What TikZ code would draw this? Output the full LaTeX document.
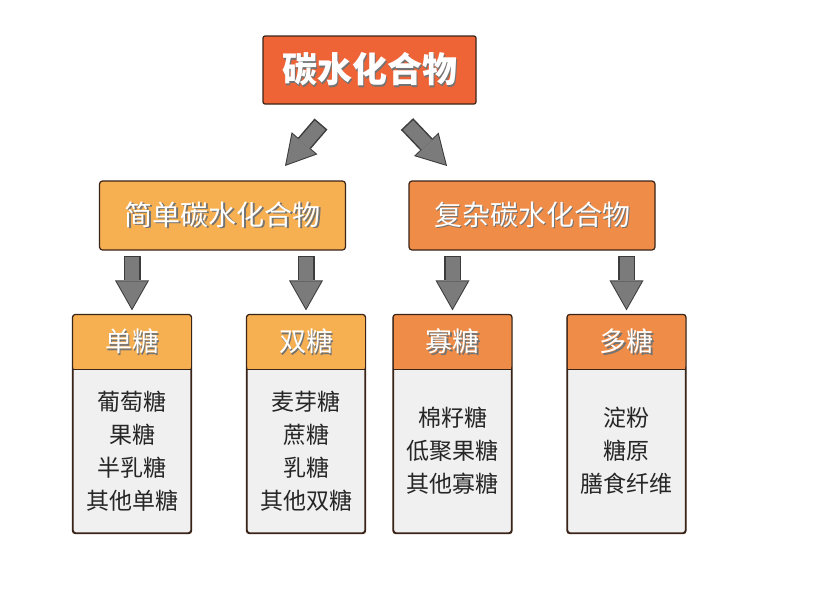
\documentclass[tikz,border=0pt]{standalone}
\usepackage{fontspec}
\setmainfont{Noto Sans CJK SC}
\usetikzlibrary{arrows.meta,positioning}
\definecolor{titlered}{HTML}{EF6437}
\definecolor{lightorange}{HTML}{F6B052}
\definecolor{darkorange}{HTML}{EF8D48}
\definecolor{bodygrey}{HTML}{F0F0F0}
\definecolor{framebrown}{HTML}{3A2418}
\definecolor{arrowgrey}{HTML}{7B7B7B}
\definecolor{arrowedge}{HTML}{3C3C3C}
\newcommand\shadowed[1]{\rlap{\kern1.5pt\raisebox{-1.5pt}{\textcolor{black!55}{#1}}}\textcolor{white}{#1}}
\tikzset{
	frame/.style={draw=framebrown, line width=1.2pt},
	topbox/.style={frame, fill=titlered, rounded corners=2pt, minimum width=213pt, minimum height=68pt, font=\fontsize{35}{40}\selectfont\bfseries},
	groupbox/.style={frame, rounded corners=3pt, minimum width=246pt, minimum height=69pt, font=\fontsize{28}{32}\selectfont},
	colbox/.style={frame, fill=bodygrey, rounded corners=3pt, minimum width=118pt, minimum height=218pt},
	headbox/.style={rounded corners=3pt, minimum width=118pt, minimum height=55pt, inner sep=0pt, font=\fontsize{27}{30}\selectfont},
	listtext/.style={align=center, font=\fontsize{23}{33}\selectfont, text=black!85},
	arrowout/.style={line width=17pt, draw=arrowedge, -{Triangle[length=30pt,width=34pt,line width=0pt]}},
	arrowin/.style={line width=14pt, draw=arrowgrey, -{Triangle[length=27pt,width=30.5pt,line width=0pt]}}
}
\begin{document}
\begin{tikzpicture}[x=1pt, y=-1pt]
	\useasboundingbox (0,0) rectangle (819,595);
	% Title and the two groups
	\node[topbox] (carb) at (369.5,70) {\shadowed{碳水化合物}};
	\node[groupbox, fill=lightorange] (simple) at (222.5,215.5) {\shadowed{简单碳水化合物}};
	\node[groupbox, fill=darkorange] (complex) at (532,215.5) {\shadowed{复杂碳水化合物}};
	% Diagonal arrows
	\coordinate (ltail) at (321,124);
	\coordinate (ltip) at (285,166);
	\coordinate (rtail) at (407,124);
	\coordinate (rtip) at (447,166);
	\foreach \from/\to in {ltail/ltip, rtail/rtip} {
			\draw[arrowout] (\from) -- (\to);
			\draw[arrowin, shorten <=1.5pt, shorten >=2pt] (\from) -- (\to);
		}
	% Sugar columns
	\foreach \name/\x/\col/\head/\items in {
			mono/132/lightorange/单糖/{葡萄糖\\果糖\\半乳糖\\其他单糖},
			di/306/lightorange/双糖/{麦芽糖\\蔗糖\\乳糖\\其他双糖},
			oligo/452.5/darkorange/寡糖/{棉籽糖\\低聚果糖\\其他寡糖},
			poly/626.5/darkorange/多糖/{淀粉\\糖原\\膳食纤维}} {
			\node[colbox] (\name) at (\x,424) {};
			\node[headbox, fill=\col, anchor=north] (\name head) at (\name.north) {\shadowed{\head}};
			\draw[frame] (\name head.south west) -- (\name head.south east);
			\draw[frame, rounded corners=3pt] (\name.north west) rectangle (\name.south east);
			\node[listtext] (\name list) at (\x,451) {\items};
		}
	% Down arrows
	\foreach \name/\group in {mono/simple, di/simple, oligo/complex, poly/complex} {
			\draw[arrowout, shorten <=5pt, shorten >=4pt] (\group.south -| \name.north) -- (\name head.north);
			\draw[arrowin, shorten <=6.5pt, shorten >=6pt] (\group.south -| \name.north) -- (\name head.north);
		}
\end{tikzpicture}
\end{document}
